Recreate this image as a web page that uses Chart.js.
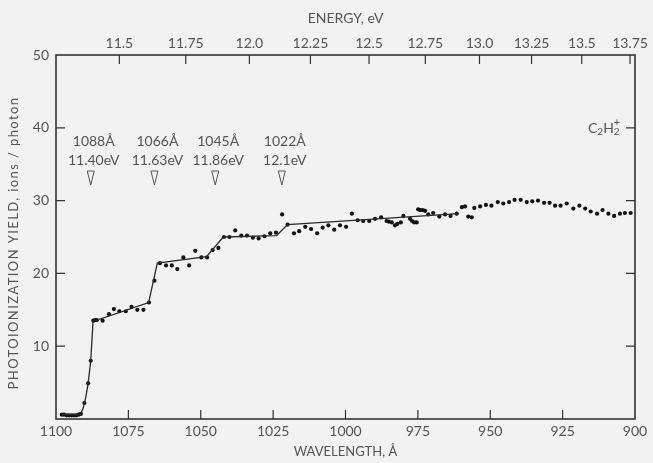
<!DOCTYPE html>
<html>
<head>
<meta charset="utf-8">
<script src="https://cdn.jsdelivr.net/npm/chart.js@4/dist/chart.umd.min.js"></script>
<style>
  html, body { margin: 0; padding: 0; background: #f2f2f2; }
  #wrap { width: 653px; height: 463px; }
</style>
</head>
<body>
<div id="wrap"><canvas id="c" width="653" height="463"></canvas></div>
<script>
// Measured photoionization yield of C2H2 (ions/photon) against wavelength (Å)
const wavelength = [
  1098.0, 1097.2, 1096.3, 1095.5, 1094.6, 1093.8, 1093.0, 1092.2, 1091.4,
  1090.2, 1088.9, 1088.0, 1087.1, 1086.5, 1085.9, 1083.9, 1081.7, 1080.0,
  1078.1, 1075.9, 1073.9, 1071.9, 1069.8, 1067.9, 1066.0, 1064.1, 1062.0,
  1060.0, 1058.1, 1056.0, 1054.0, 1051.9, 1049.8, 1047.8, 1045.9, 1043.9,
  1042.0, 1040.1, 1038.1, 1036.0, 1034.0, 1032.0, 1030.0, 1028.0, 1026.0,
  1024.0, 1021.9, 1020.0, 1017.8, 1016.0, 1013.9, 1011.9, 1009.8, 1007.9,
  1005.9, 1003.9, 1001.9, 999.8, 997.8, 995.8, 993.9, 991.8, 989.8,
  987.7, 985.8, 985.0, 984.0, 982.9, 982.1, 980.9, 980.0, 977.7,
  977.0, 976.3, 975.4, 974.9, 974.2, 973.3, 972.5, 971.4, 969.7,
  967.6, 965.6, 963.7, 961.6, 959.8, 958.7, 957.6, 956.4, 955.5,
  953.5, 951.5, 949.6, 947.4, 945.5, 943.5, 941.6, 939.5, 937.4,
  935.5, 933.5, 931.4, 929.5, 927.6, 925.7, 923.6, 921.3, 919.2,
  917.2, 915.3, 913.1, 911.2, 909.2, 907.2, 905.2, 903.5, 901.5
];
const ionYield = [
  0.6, 0.6, 0.5, 0.5, 0.5, 0.5, 0.5, 0.6, 0.7,
  2.2, 4.9, 8.0, 13.5, 13.6, 13.6, 13.5, 14.4, 15.1,
  14.8, 14.8, 15.4, 15.0, 15.0, 16.0, 19.0, 21.4, 21.1,
  21.1, 20.6, 22.2, 21.1, 23.1, 22.2, 22.2, 23.2, 23.5,
  25.0, 25.0, 25.9, 25.2, 25.2, 24.9, 24.8, 25.1, 25.5,
  25.6, 28.1, 26.7, 25.5, 25.8, 26.4, 26.1, 25.5, 26.3,
  26.6, 26.0, 26.6, 26.4, 28.2, 27.3, 27.2, 27.2, 27.5,
  27.7, 27.2, 27.1, 27.0, 26.6, 26.8, 27.0, 27.9, 27.5,
  27.2, 27.0, 27.0, 28.8, 28.7, 28.7, 28.6, 28.1, 28.3,
  27.8, 28.1, 27.9, 28.2, 29.1, 29.2, 27.8, 27.7, 29.0,
  29.2, 29.4, 29.3, 29.8, 29.6, 29.8, 30.1, 30.1, 29.8,
  29.9, 30.0, 29.7, 29.7, 29.3, 29.3, 29.6, 28.9, 29.3,
  28.9, 28.5, 28.2, 28.7, 28.2, 27.9, 28.2, 28.3, 28.3
];

// Smoothed step curve through the data
const curveWavelength = [1098.0, 1091.6, 1090.6, 1089.7, 1088.9, 1088.0, 1087.2, 1068.0, 1065.0, 1048.0, 1042.2, 1023.8, 1020.0, 961.0];
const curveYield      = [0.6,    0.6,    1.5,    3.0,    4.9,    8.0,    13.4,   16.0,   21.4,   22.3,   25.0,   25.2,   26.7,   28.2];

// Onset markers
const onsetWavelength = [1088, 1066, 1045, 1022];
const onsetEnergy = ['11.40eV', '11.63eV', '11.86eV', '12.1eV'];

// Energy scale along the top (eV), placed at λ = hc / E
const energyTicks = ['11.5', '11.75', '12.0', '12.25', '12.5', '12.75', '13.0', '13.25', '13.5', '13.75'];
const HC = 12398.4; // eV·Å

const yTitle = 'PHOTOIONIZATION YIELD, ions / photon';

const FONT = 'Lato, "Open Sans", "DejaVu Sans", sans-serif';
const INK = '#555';

const points = wavelength.map((w, i) => ({ x: w, y: ionYield[i] }));
const curve = curveWavelength.map((w, i) => ({ x: w, y: curveYield[i] }));

const frameAndTicks = {
  id: 'frameAndTicks',
  afterDatasetsDraw(chart) {
    const { ctx, chartArea: a, scales } = chart;
    const L = 9;
    ctx.save();
    ctx.strokeStyle = '#333';
    ctx.lineWidth = 1.6;
    ctx.strokeRect(a.left, a.top, a.right - a.left, a.bottom - a.top);
    ctx.lineWidth = 1.2;
    ctx.beginPath();
    scales.x.ticks.forEach(t => {
      if (t.value <= 900 || t.value >= 1100) return;
      const px = scales.x.getPixelForValue(t.value);
      ctx.moveTo(px, a.bottom); ctx.lineTo(px, a.bottom - L);
    });
    scales.xTop.ticks.forEach(t => {
      const px = scales.xTop.getPixelForValue(t.value);
      ctx.moveTo(px, a.top); ctx.lineTo(px, a.top + L);
    });
    scales.y.ticks.forEach(t => {
      if (t.value <= 0 || t.value >= 50) return;
      const py = scales.y.getPixelForValue(t.value);
      ctx.moveTo(a.left, py); ctx.lineTo(a.left + L, py);
      ctx.moveTo(a.right, py); ctx.lineTo(a.right - L, py);
    });
    ctx.stroke();

    // Spaced-out vertical axis title
    ctx.fillStyle = INK;
    ctx.font = '13px ' + FONT;
    ctx.textAlign = 'center';
    ctx.textBaseline = 'middle';
    ctx.translate(14, (a.top + a.bottom) / 2 + 6);
    ctx.rotate(-Math.PI / 2);
    if ('letterSpacing' in ctx) ctx.letterSpacing = '1.4px';
    ctx.fillText(yTitle, 0, 0);
    ctx.restore();
  }
};

const onsetLabels = {
  id: 'onsetLabels',
  afterDatasetsDraw(chart) {
    const { ctx, scales } = chart;
    ctx.save();
    ctx.fillStyle = INK;
    ctx.strokeStyle = INK;
    ctx.lineWidth = 1;
    ctx.font = '14px ' + FONT;
    ctx.textAlign = 'center';
    ctx.textBaseline = 'middle';
    onsetWavelength.forEach((w, i) => {
      const px = scales.x.getPixelForValue(w);
      ctx.fillText(w + 'Å', px + 3, 141);
      ctx.fillText(onsetEnergy[i], px + 3, 160);
      ctx.beginPath();
      ctx.moveTo(px - 3.5, 171);
      ctx.lineTo(px + 3.5, 171);
      ctx.lineTo(px, 185);
      ctx.closePath();
      ctx.stroke();
    });

    // Ion label C2H2+
    let x = 588;
    const y = 128;
    ctx.textAlign = 'left';
    const put = (s, size, dy) => {
      ctx.font = size + 'px ' + FONT;
      ctx.fillText(s, x, y + dy);
      x += ctx.measureText(s).width;
    };
    put('C', 14, 0);
    put('2', 10, 4);
    put('H', 14, 0);
    const xs = x;
    put('2', 10, 4);
    x = xs;
    put('+', 11, -6);
    ctx.restore();
  }
};

new Chart(document.getElementById('c'), {
  type: 'scatter',
  data: {
    datasets: [
      {
        data: curve,
        showLine: true,
        borderColor: '#2a2a2a',
        borderWidth: 1.3,
        pointRadius: 0,
        tension: 0,
        xAxisID: 'x',
        yAxisID: 'y'
      },
      {
        data: points,
        pointRadius: 2.1,
        pointBackgroundColor: '#111',
        pointBorderWidth: 0,
        xAxisID: 'x',
        yAxisID: 'y'
      }
    ]
  },
  options: {
    responsive: false,
    animation: false,
    layout: { padding: { left: 0, right: 18, top: 0, bottom: 0 } },
    plugins: { legend: { display: false }, tooltip: { enabled: false } },
    scales: {
      x: {
        type: 'linear',
        position: 'bottom',
        min: 900,
        max: 1100,
        reverse: true,
        grid: { display: false, drawTicks: false },
        border: { display: false },
        ticks: {
          stepSize: 25,
          padding: 4,
          color: INK,
          font: { family: FONT, size: 14 },
          maxRotation: 0,
          callback: v => String(v)
        },
        title: {
          display: true,
          text: 'WAVELENGTH, Å',
          color: INK,
          font: { family: FONT, size: 13 },
          padding: { top: 0, bottom: 3 }
        },
        afterFit(s) { s.height = 44; }
      },
      xTop: {
        type: 'linear',
        position: 'top',
        min: 900,
        max: 1100,
        reverse: true,
        grid: { display: false, drawTicks: false },
        border: { display: false },
        afterBuildTicks(s) {
          s.ticks = energyTicks.map(e => ({ value: HC / parseFloat(e) }));
        },
        ticks: {
          autoSkip: false,
          padding: 3,
          color: INK,
          font: { family: FONT, size: 14 },
          maxRotation: 0,
          callback: (v, i) => energyTicks[i]
        },
        title: {
          display: true,
          text: 'ENERGY, eV',
          color: INK,
          font: { family: FONT, size: 14 },
          padding: { top: 10, bottom: 0 }
        },
        afterFit(s) { s.height = 55; }
      },
      y: {
        type: 'linear',
        position: 'left',
        min: 0,
        max: 50,
        grid: { display: false, drawTicks: false },
        border: { display: false },
        ticks: {
          stepSize: 10,
          padding: 7,
          color: INK,
          font: { family: FONT, size: 14 },
          callback: v => (v === 0 ? '' : String(v))
        },
        afterFit(s) { s.width = 56; }
      }
    }
  },
  plugins: [frameAndTicks, onsetLabels]
});
</script>
</body>
</html>
